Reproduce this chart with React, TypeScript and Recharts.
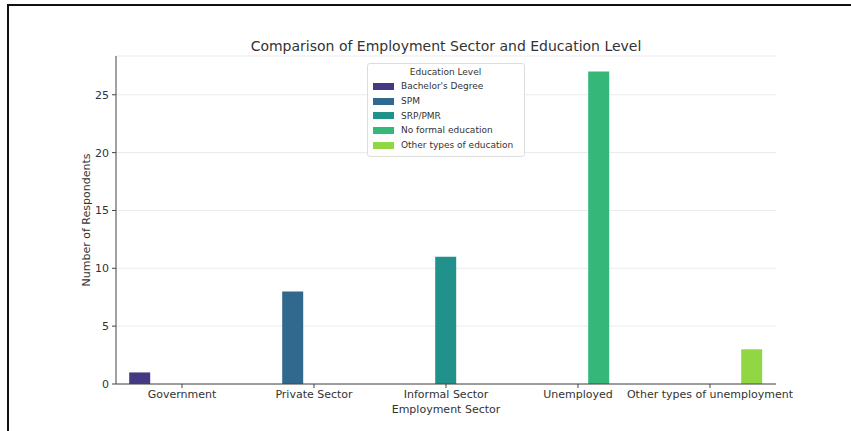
import { BarChart, Bar, XAxis, YAxis, CartesianGrid } from 'recharts'

const sectors = ['Government', 'Private Sector', 'Informal Sector', 'Unemployed', 'Other types of unemployment']
const educationLevels = ['Bachelor\'s Degree', 'SPM', 'SRP/PMR', 'No formal education', 'Other types of education']
const bachelors = [1, 0, 0, 0, 0]
const spm = [0, 8, 0, 0, 0]
const srpPmr = [0, 0, 11, 0, 0]
const noFormal = [0, 0, 0, 27, 0]
const otherEducation = [0, 0, 0, 0, 3]
const yTicks = [0, 5, 10, 15, 20, 25]

const colors = ['#443983', '#31688e', '#21918c', '#35b779', '#90d743']
const seriesValues = [bachelors, spm, srpPmr, noFormal, otherEducation]

const data = sectors.map((sector, i) => {
  const row: Record<string, string | number> = { sector }
  educationLevels.forEach((level, j) => {
    row[level] = seriesValues[j][i]
  })
  return row
})

const font = 'DejaVu Sans, Verdana, sans-serif'
const textColor = '#333'

function LegendBox() {
  return (
    <div
      style={{
        position: 'absolute',
        left: 367,
        top: 63,
        width: 158,
        boxSizing: 'border-box',
        border: '1px solid #ddd',
        borderRadius: 3,
        background: 'rgba(255,255,255,0.85)',
        padding: '2px 6px 4px 5px',
        fontFamily: font,
        fontSize: 9,
        color: textColor,
      }}
    >
      <div style={{ textAlign: 'center', lineHeight: '13px' }}>Education Level</div>
      {educationLevels.map((level, j) => (
        <div key={level} style={{ display: 'flex', alignItems: 'center', height: 14.7 }}>
          <span style={{ width: 21, height: 7, background: colors[j], marginRight: 7, display: 'inline-block' }} />
          <span>{level}</span>
        </div>
      ))}
    </div>
  )
}

function SectorTick({ x, y, payload }: any) {
  return (
    <text x={x} y={y + 8} textAnchor="middle" fontSize={11} fill={textColor} fontFamily={font}>
      {payload.value}
    </text>
  )
}

export default function App() {
  return (
    <div style={{ position: 'absolute', left: 0, top: 0, width: 851, height: 431, background: '#fff', overflow: 'hidden' }}>
      <div style={{ position: 'absolute', left: 7, top: 4, width: 844, height: 2, background: '#111' }} />
      <div style={{ position: 'absolute', left: 7, top: 4, width: 2, height: 427, background: '#111' }} />
      <div
        style={{
          position: 'absolute',
          left: 116,
          width: 660,
          top: 37,
          textAlign: 'center',
          fontFamily: font,
          fontSize: 14,
          lineHeight: '18px',
          color: textColor,
        }}
      >
        Comparison of Employment Sector and Education Level
      </div>
      <div
        style={{
          position: 'absolute',
          left: 87 - 100,
          top: 220 - 8,
          width: 200,
          height: 16,
          lineHeight: '16px',
          textAlign: 'center',
          transform: 'rotate(-90deg)',
          fontFamily: font,
          fontSize: 11,
          color: textColor,
        }}
      >
        Number of Respondents
      </div>
      <div style={{ position: 'absolute', left: 0, top: 0 }}>
        <BarChart
          width={851}
          height={431}
          data={data}
          margin={{ top: 56, right: 75, bottom: 0, left: 70 }}
          barGap={0}
          barCategoryGap="10%"
        >
          <CartesianGrid vertical={false} stroke="#ebebeb" />
          <XAxis
            dataKey="sector"
            interval={0}
            height={47}
            tick={<SectorTick />}
            tickSize={4}
            stroke="#444"
            label={{ value: 'Employment Sector', position: 'insideBottom', offset: 18, fontSize: 11, fill: textColor, fontFamily: font }}
          />
          <YAxis
            width={46}
            domain={[0, 28.35]}
            ticks={yTicks}
            tickSize={4}
            tickMargin={3}
            stroke="#444"
            tick={{ fontSize: 11, fill: textColor, fontFamily: font }}
          />
          {educationLevels.map((level, j) => (
            <Bar key={level} dataKey={level} fill={colors[j]} isAnimationActive={false} />
          ))}
        </BarChart>
      </div>
      <LegendBox />
    </div>
  )
}
